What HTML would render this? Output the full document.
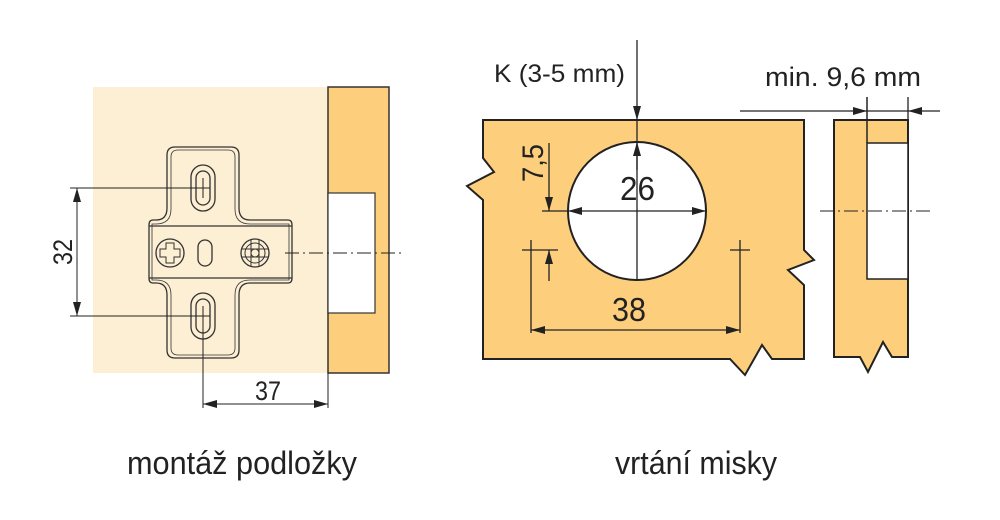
<!DOCTYPE html>
<html><head><style>html,body{margin:0;padding:0;background:#fff}svg{display:block}</style></head><body>
<svg width="1000" height="520" viewBox="0 0 1000 520" xmlns="http://www.w3.org/2000/svg" font-family="Liberation Sans, sans-serif">
<defs>
<marker id="a" viewBox="0 0 14 8" refX="14" refY="4" markerWidth="14" markerHeight="8" markerUnits="userSpaceOnUse" orient="auto-start-reverse"><path d="M0,0 L14,4 L0,8 z" fill="#222"/></marker>
</defs>
<!-- left diagram -->
<rect x="93" y="87" width="235" height="286" fill="#fdefd3"/>
<rect x="328" y="87" width="61" height="286" fill="#fdcf7c" stroke="#333" stroke-width="1.5"/>
<rect x="328" y="193" width="47" height="120" fill="#fff" stroke="#333" stroke-width="1.2"/>
<g fill="#fdefd3" stroke="#333" stroke-width="1.3">
<path d="M175,147 H231 Q239,147 239,155 V208 Q239,220 250,220 H288 Q292,220 292,225 V278 Q292,283 288,283 H250 Q239,283 239,295 V350 Q239,358 231,358 H175 Q167,358 167,350 V295 Q167,283 156,283 H153 Q149,283 149,278 V225 Q149,220 153,220 H156 Q167,220 167,208 V155 Q167,147 175,147 Z"/>
<path d="M178,150 H228 Q235,150 235,157 V209 Q235,224 250,224 H289 V280 H250 Q235,280 235,295 V348 Q235,355 228,355 H178 Q171,355 171,348 V295 Q171,280 156,280 H152 V224 H156 Q171,224 171,209 V157 Q171,150 178,150 Z" fill="none" stroke-width="0.8"/>
<line x1="149" y1="226" x2="292" y2="226"/><line x1="149" y1="278" x2="292" y2="278"/>
<rect x="191" y="165" width="24" height="46" rx="12"/><rect x="196" y="171" width="14" height="34" rx="7"/>
<rect x="191" y="293" width="24" height="46" rx="12"/><rect x="196" y="299" width="14" height="34" rx="7"/>
<rect x="198" y="240" width="14" height="26" rx="7"/>
<circle cx="170" cy="253" r="14"/><path d="M166,243 H174 V249 H180 V257 H174 V263 H166 V257 H160 V249 H166 Z" stroke-width="1"/>
<circle cx="255" cy="253" r="14"/><circle cx="255" cy="253" r="10" stroke-width="1"/><circle cx="255" cy="253" r="4" stroke-width="1"/>
<path d="M251,240 V266 M259,240 V266 M242,249 H268 M242,257 H268" stroke-width="1"/>
</g>
<g stroke="#222" stroke-width="1" fill="none">
<line x1="70" y1="188" x2="210" y2="188"/><line x1="70" y1="316" x2="210" y2="316"/>
<line x1="203" y1="178" x2="203" y2="198"/><line x1="203" y1="306" x2="203" y2="408"/>
<line x1="328" y1="373" x2="328" y2="408"/>
<line x1="77" y1="188" x2="77" y2="316" marker-start="url(#a)" marker-end="url(#a)"/>
<line x1="203" y1="404" x2="328" y2="404" marker-start="url(#a)" marker-end="url(#a)"/>
<line x1="285" y1="253" x2="405" y2="253" stroke-dasharray="14,4,2,4"/>
</g>
<text x="255" y="400" font-size="27" textLength="26" lengthAdjust="spacingAndGlyphs" fill="#222">37</text>
<text transform="translate(72,252) rotate(-90)" font-size="27" text-anchor="middle" textLength="26" lengthAdjust="spacingAndGlyphs" fill="#222">32</text>
<text x="127" y="474" font-size="32" textLength="230" lengthAdjust="spacingAndGlyphs" fill="#222">montáž podložky</text>
<!-- right diagram -->
<path d="M483,120 H804 V250 L814,260 L788,270 L804,285 V359 H772 L762,345 L745,375 L730,359 H483 V200 L467,186 L494,172 L483,158 Z" fill="#fdcf7c" stroke="#222" stroke-width="2"/>
<circle cx="637" cy="211" r="69" fill="#fff" stroke="#222" stroke-width="2"/>
<path d="M834,120 H908 V357 H892 L883,342 L868,372 L860,357 H834 Z" fill="#fdcf7c" stroke="#222" stroke-width="2"/>
<rect x="867" y="143" width="41" height="136" fill="#fff" stroke="#222" stroke-width="1.5"/>
<line x1="867" y1="97" x2="867" y2="143" stroke="#222" stroke-width="1.5"/>
<g stroke="#222" stroke-width="1.3" fill="none">
<line x1="637" y1="40" x2="637" y2="120" marker-end="url(#a)"/>
<line x1="637" y1="120" x2="637" y2="279"/>
<line x1="637" y1="170" x2="637" y2="142" marker-end="url(#a)"/>
<line x1="542" y1="211" x2="568" y2="211"/>
<line x1="568" y1="211" x2="706" y2="211" marker-start="url(#a)" marker-end="url(#a)"/>
<line x1="549" y1="143" x2="549" y2="211" marker-end="url(#a)"/>
<line x1="549" y1="281" x2="549" y2="250" marker-end="url(#a)"/>
<line x1="522" y1="250" x2="558" y2="250"/>
<line x1="531" y1="240" x2="531" y2="333"/>
<line x1="730" y1="250" x2="750" y2="250"/><line x1="740" y1="240" x2="740" y2="333"/>
<line x1="531" y1="330" x2="740" y2="330" marker-start="url(#a)" marker-end="url(#a)"/>
<line x1="740" y1="111" x2="867" y2="111" marker-end="url(#a)"/>
<line x1="867" y1="111" x2="908" y2="111"/>
<line x1="940" y1="111" x2="908" y2="111" marker-end="url(#a)"/>
<line x1="908" y1="97" x2="908" y2="120"/>
<line x1="820" y1="211" x2="930" y2="211" stroke-dasharray="14,4,2,4" stroke-width="1"/>
</g>
<text x="620" y="200" font-size="33" textLength="35" lengthAdjust="spacingAndGlyphs" fill="#222">26</text>
<text x="612" y="321" font-size="33" textLength="34" lengthAdjust="spacingAndGlyphs" fill="#222">38</text>
<text transform="translate(543,163) rotate(-90)" font-size="30" text-anchor="middle" textLength="38" lengthAdjust="spacingAndGlyphs" fill="#222">7,5</text>
<text x="494" y="82" font-size="25" textLength="131" lengthAdjust="spacingAndGlyphs" fill="#222">K (3-5 mm)</text>
<text x="765" y="86" font-size="27" textLength="156" lengthAdjust="spacingAndGlyphs" fill="#222">min. 9,6 mm</text>
<text x="615" y="474" font-size="32" textLength="162" lengthAdjust="spacingAndGlyphs" fill="#222">vrtání misky</text>
</svg>
</body></html>
